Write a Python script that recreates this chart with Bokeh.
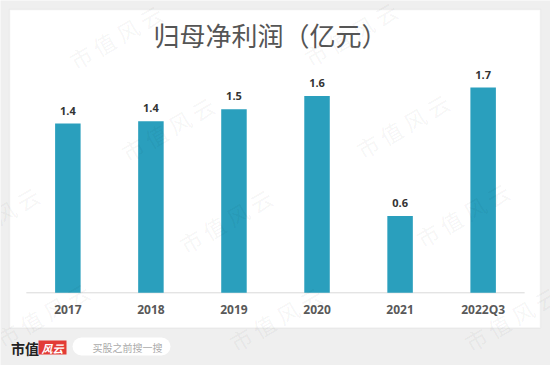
from bokeh.plotting import figure
from bokeh.models import FactorRange, Range1d, ColumnDataSource, BoxAnnotation, Label
from bokeh.core.properties import value
from bokeh.embed import file_html
from bokeh.resources import INLINE

# ---- data ----
categories = ["2017", "2018", "2019", "2020", "2021", "2022Q3"]
profit = [1.41, 1.43, 1.53, 1.64, 0.64, 1.71]
value_labels = [f"{v:.1f}" for v in profit]
title_text = "归母净利润（亿元）"
brand = "市值"
brand_red = "风云"
search_text = "买股之前搜一搜"
watermark = "市 值 风 云"

# ---- layout helpers (pixel layout -> data coords) ----
W, H = 550, 365
PAD = 0.311                       # category padding each side
UNIT = W / (len(categories) + 2 * PAD)
PPU = 120.0                       # px per y unit
BASE = 292.3                      # baseline, px from top


def fx(px):
    return px / UNIT - PAD


def fy(py):
    return (BASE - py) / PPU


p = figure(
    width=W, height=H,
    x_range=FactorRange(factors=categories,
                        range_padding=2 * PAD / len(categories),
                        range_padding_units="percent"),
    y_range=Range1d(fy(H), fy(0)),
    output_backend="svg", toolbar_location=None,
    min_border=0, min_border_left=0, min_border_right=0,
    min_border_top=0, min_border_bottom=0,
)
p.axis.visible = False
p.grid.visible = False
p.outline_line_color = None
p.background_fill_color = "#efefef"
p.border_fill_color = "#efefef"

# white panel
panel = BoxAnnotation(left=fx(9), right=fx(540), top=fy(9), bottom=fy(327.5),
                      fill_color="white", fill_alpha=1.0,
                      line_color="#dcdcdc", line_width=1.5, level="underlay")
p.add_layout(panel)

src = ColumnDataSource(dict(
    cat=categories, v=profit, lab=value_labels,
    ly=[fy(309)] * len(categories),
))

# baseline
p.segment(x0=[0], y0=[0], x1=[len(categories)], y1=[0],
          line_color="#d9d9d9", line_width=1)

# bars
p.vbar(x="cat", top="v", bottom=0, width=0.307, source=src,
       fill_color="#2a9fbd", line_color=None)

# value labels
p.text(x="cat", y="v", text="lab", source=src,
       text_align="center", text_baseline="bottom", y_offset=-9,
       text_font=value("Open Sans"), text_font_size="11px",
       text_font_style="bold", text_color="#333333")

# category labels
p.text(x="cat", y="ly", text="cat", source=src,
       text_align="center", text_baseline="middle",
       text_font=value("Open Sans"), text_font_size="12px",
       text_font_style="bold", text_color="#595959")

# title
p.add_layout(Label(x=fx(153), y=fy(34), text=title_text,
                   text_align="left", text_baseline="middle",
                   text_font="Noto Sans CJK SC", text_font_size="26px",
                   text_color="#555555"))

# bottom brand area
p.add_layout(Label(x=fx(24.5), y=fy(347), text=brand,
                   text_align="center", text_baseline="middle",
                   text_font="Noto Sans CJK SC", text_font_size="14px",
                   text_font_style="bold", text_color="#222222"))
p.add_layout(BoxAnnotation(left=fx(38), right=fx(66), top=fy(340), bottom=fy(354),
                           fill_color="#e23b36", fill_alpha=1.0, line_color=None))
p.add_layout(Label(x=fx(52), y=fy(347), text=brand_red,
                   text_align="center", text_baseline="middle",
                   text_font="Noto Sans CJK SC", text_font_size="11px",
                   text_font_style="bold italic", text_color="white"))
p.add_layout(BoxAnnotation(left=fx(72), right=fx(170), top=fy(337), bottom=fy(355),
                           fill_color="white", fill_alpha=1.0, line_color=None,
                           border_radius=9))
p.scatter(x=[fx(82)], y=[fy(345.5)], marker="circle", size=8,
          fill_color=None, line_color="#9a9a9a", line_width=1.3)
p.segment(x0=[fx(84.6)], y0=[fy(348.2)], x1=[fx(87.5)], y1=[fy(351.2)],
          line_color="#9a9a9a", line_width=1.5)
p.add_layout(Label(x=fx(92), y=fy(346.5), text=search_text,
                   text_align="left", text_baseline="middle",
                   text_font="Noto Sans CJK SC", text_font_size="10px",
                   text_color="#aaaaaa"))

# watermarks
wm_pts = [(115, 36), (350, 33), (167, 128), (402, 125), (-8, 218), (225, 220),
          (462, 214), (42, 314), (275, 318), (510, 318)]
p.text(x=[fx(a) for a, b in wm_pts], y=[fy(b) for a, b in wm_pts],
       text=[watermark] * len(wm_pts), angle=30, angle_units="deg",
       text_align="center", text_baseline="middle",
       text_font=value("Noto Sans CJK SC"), text_font_size="22px",
       text_color="#000000", text_alpha=0.05)

open("out.html", "w").write(file_html(p, INLINE, title="chart"))
